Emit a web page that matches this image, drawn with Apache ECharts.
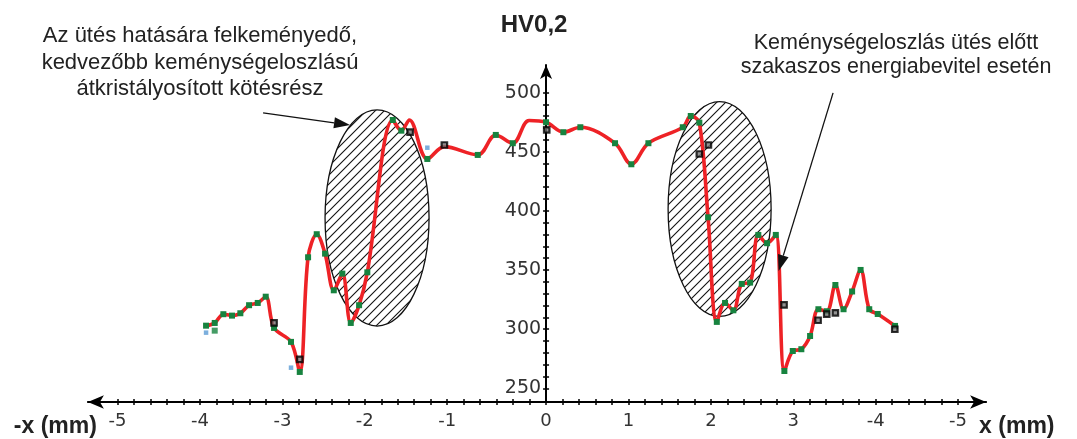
<!DOCTYPE html>
<html>
<head>
<meta charset="utf-8">
<script src="https://cdn.jsdelivr.net/npm/echarts@6/dist/echarts.min.js"></script>
<style>
  html, body { margin: 0; padding: 0; background: #fff; }
  #chart { width: 1077px; height: 439px; }
</style>
</head>
<body>
<div id="chart"></div>
<script>
// mért pontok a görbén (x mm, HV0,2) – zöld jelölővel
const curveX = [-4.126, -4.021, -3.916, -3.811, -3.710, -3.604, -3.499, -3.402, -3.301, -3.095,
  -2.989, -2.888, -2.783, -2.682, -2.576, -2.472, -2.370, -2.269, -2.169, -1.860, -1.756,
  -1.441, -0.829, -0.610, -0.404, 0, 0.210, 0.416, 0.837, 1.035, 1.242, 1.659, 1.756, 1.860,
  1.966, 2.072, 2.172, 2.273, 2.375, 2.476, 2.576, 2.682, 2.788, 2.892, 2.994, 3.098, 3.204,
  3.305, 3.407, 3.511, 3.610, 3.714, 3.817, 3.922, 4.025, 4.235];
const curveY = [303.0, 305.3, 312.7, 311.5, 313.5, 320.3, 322.2, 327.5, 301.1, 289.3,
  263.9, 360.8, 380.3, 363.9, 332.9, 347.0, 305.3, 320.3, 348.1, 476.8, 467.8,
  443.9, 447.3, 464.2, 457.2, 474.9, 466.5, 470.7, 457.2, 439.4, 457.2, 470.7, 480.2, 474.6,
  394.6, 306.2, 322.2, 316.0, 338.3, 339.4, 379.7, 372.7, 379.7, 264.7, 281.6, 283.1, 294.3,
  316.9, 315.2, 337.4, 316.9, 331.9, 350.1, 316.9, 312.9, 302.8];

// a görbe jelölő nélküli töréspontjai
const knotX = [-1.659, -1.234, -0.206];
const knotY = [476.8, 454.3, 476.4];

// további mérési sorozatok
const blackX = [-3.301, -2.989, -1.650, -1.234, 0.008, 1.860, 1.970, 2.888, 3.301, 3.406, 3.511, 4.232];
const blackY = [305.3, 274.6, 466.5, 455.7, 468.4, 448.1, 455.7, 320.5, 307.6, 312.7, 313.8, 300.0];
const blueX = [-4.126, -3.095, -1.441];
const blueY = [297.1, 267.5, 453.4];
const greenX = [-4.021];
const greenY = [298.8];

// tengelyfeliratok
const xLabelValues = [-5.2, -4.2, -3.2, -2.2, -1.2, 0, 1, 2, 3, 4, 5];
const xLabelTexts = ['-5', '-4', '-3', '-2', '-1', '0', '1', '2', '3', '-4', '-5'];
const yLabelValues = [250, 300, 350, 400, 450, 500];

const xTicks = [];
for (let i = -26; i <= 26; i++) xTicks.push(Math.round(i * 20) / 100);
const yTicks = [];
for (let v = 250; v <= 500; v += 10) yTicks.push(v);

const X_MIN = -5.56, X_MAX = 5.34;
const Y_MIN = 238.5, Y_MAX = 523.3;
const GRID = { left: 87.9, right: 90.9, top: 65, bottom: 37 };
// az y tengely az x = 0 helyen áll
const gridW = 1077 - GRID.left - GRID.right;
const yAxisOffset = -(0 - X_MIN) / (X_MAX - X_MIN) * gridW;

const chart = echarts.init(document.getElementById('chart'));

const lineData = curveX.map((x, i) => ({ value: [x, curveY[i]] }))
  .concat(knotX.map((x, i) => ({ value: [x, knotY[i]], symbol: 'none' })))
  .sort((a, b) => a.value[0] - b.value[0]);

const pairs = (xs, ys) => xs.map((x, i) => [x, ys[i]]);

const numFont = { fontFamily: 'DejaVu Sans', color: '#333' };
const nameFont = { fontFamily: 'Liberation Sans', fontWeight: 'bold', color: '#222', fontSize: 23 };
const tickStyle = { color: '#000', width: 1.5 };

chart.setOption({
  animation: false,
  grid: GRID,
  xAxis: [
    {
      type: 'value', position: 'bottom', min: X_MIN, max: X_MAX,
      name: 'x (mm)', nameLocation: 'end', nameGap: -7,
      nameTextStyle: Object.assign({ verticalAlign: 'top', padding: [13, 0, 0, 0] }, nameFont),
      axisLine: { onZero: false, lineStyle: { color: '#000', width: 2 }, symbol: ['arrow', 'arrow'], symbolSize: [10, 16] },
      axisTick: { customValues: xTicks, length: 3, lineStyle: tickStyle },
      axisLabel: Object.assign({
        customValues: xLabelValues, fontSize: 18, margin: 10,
        formatter: v => {
          const i = xLabelValues.findIndex(t => Math.abs(t - v) < 1e-6);
          return i >= 0 ? xLabelTexts[i] : '';
        }
      }, numFont),
      splitLine: { show: false }
    },
    {
      type: 'value', position: 'bottom', min: X_MIN, max: X_MAX,
      name: '-x (mm)', nameLocation: 'start', nameGap: -9,
      nameTextStyle: Object.assign({ verticalAlign: 'top', padding: [13, 0, 0, 0] }, nameFont),
      axisLine: { show: false, onZero: false },
      axisTick: { customValues: xTicks, inside: true, length: 3, lineStyle: tickStyle },
      axisLabel: { show: false },
      splitLine: { show: false }
    }
  ],
  yAxis: [
    {
      type: 'value', position: 'left', offset: yAxisOffset, min: Y_MIN, max: Y_MAX,
      name: 'HV0,2', nameLocation: 'end', nameGap: 28,
      nameTextStyle: { fontFamily: 'Liberation Sans', fontWeight: 'bold', fontSize: 24, color: '#222', padding: [0, 24, 0, 0] },
      axisLine: { onZero: false, lineStyle: { color: '#000', width: 2 }, symbol: ['none', 'arrow'], symbolSize: [9, 14] },
      axisTick: { customValues: yTicks, length: 3, lineStyle: tickStyle },
      axisLabel: Object.assign({ customValues: yLabelValues, fontSize: 19, margin: 5 }, numFont),
      splitLine: { show: false }
    },
    {
      type: 'value', position: 'left', offset: yAxisOffset, min: Y_MIN, max: Y_MAX,
      axisLine: { show: false, onZero: false },
      axisTick: { customValues: yTicks, inside: true, length: 3, lineStyle: tickStyle },
      axisLabel: { show: false },
      splitLine: { show: false }
    }
  ],
  series: [
    {
      type: 'line', data: lineData, smooth: 0.35,
      symbol: 'rect', symbolSize: 6,
      itemStyle: { color: '#17833f' },
      lineStyle: { color: '#ee2226', width: 3.6 },
      z: 3
    },
    {
      type: 'scatter', data: pairs(blackX, blackY), symbol: 'rect', symbolSize: 5.5,
      itemStyle: { color: '#777', borderColor: '#000', borderWidth: 2.2 }, z: 4
    },
    {
      type: 'scatter', data: pairs(blueX, blueY), symbol: 'rect', symbolSize: 4.5,
      itemStyle: { color: '#5b9bd5' }, z: 4
    },
    {
      type: 'scatter', data: pairs(greenX, greenY), symbol: 'rect', symbolSize: 6,
      itemStyle: { color: '#17833f' }, z: 4
    }
  ]
});

// kiemelt (vonalkázott) tartományok és nyilak
const ellipses = [
  { cx: -2.051, cy: 394.0, rx: 0.631, ry: 91.3 },
  { cx: 2.106, cy: 401.6, rx: 0.625, ry: 90.8 }
];
const arrows = [
  { from: [-3.434, 482.8], to: [-2.379, 472.6] },
  { from: [3.483, 499.7], to: [2.822, 349.3] }
];

function hatch() {
  const c = document.createElement('canvas');
  c.width = 9; c.height = 9;
  const g = c.getContext('2d');
  g.strokeStyle = '#111';
  g.lineWidth = 1.1;
  g.beginPath();
  g.moveTo(-1, 10); g.lineTo(10, -1);
  g.moveTo(-1, 1); g.lineTo(1, -1);
  g.moveTo(8, 10); g.lineTo(10, 8);
  g.stroke();
  return c;
}

const px = p => chart.convertToPixel({ xAxisIndex: 0, yAxisIndex: 0 }, p);
const pattern = hatch();
const graphics = [];

ellipses.forEach(e => {
  const c = px([e.cx, e.cy]);
  const r = px([e.cx + e.rx, e.cy + e.ry]);
  graphics.push({
    type: 'ellipse', z: 1,
    shape: { cx: c[0], cy: c[1], rx: r[0] - c[0], ry: c[1] - r[1] },
    style: { fill: { image: pattern, repeat: 'repeat' }, stroke: '#111', lineWidth: 1.3 }
  });
});

arrows.forEach(a => {
  const p0 = px(a.from), p1 = px(a.to);
  const dx = p1[0] - p0[0], dy = p1[1] - p0[1];
  const len = Math.hypot(dx, dy), ux = dx / len, uy = dy / len;
  const hl = 16, hw = 5.5;
  const bx = p1[0] - ux * hl, by = p1[1] - uy * hl;
  graphics.push({
    type: 'line', z: 5,
    shape: { x1: p0[0], y1: p0[1], x2: bx, y2: by },
    style: { stroke: '#111', lineWidth: 1.3 }
  });
  graphics.push({
    type: 'polygon', z: 5,
    shape: { points: [p1, [bx - uy * hw, by + ux * hw], [bx + uy * hw, by - ux * hw]] },
    style: { fill: '#111' }
  });
});

graphics.push({
  type: 'text', z: 5, x: 200, y: 62.5,
  style: {
    text: 'Az ütés hatására felkeményedő,\nkedvezőbb keménységeloszlású\nátkristályosított kötésrész',
    align: 'center', verticalAlign: 'middle', lineHeight: 26.5,
    font: '22px "Liberation Sans"', fill: '#222'
  }
});
graphics.push({
  type: 'text', z: 5, x: 896, y: 55.5,
  style: {
    text: 'Keménységeloszlás ütés előtt\nszakaszos energiabevitel esetén',
    align: 'center', verticalAlign: 'middle', lineHeight: 24,
    font: '21.5px "Liberation Sans"', fill: '#222'
  }
});

chart.setOption({ graphic: graphics });
</script>
</body>
</html>
